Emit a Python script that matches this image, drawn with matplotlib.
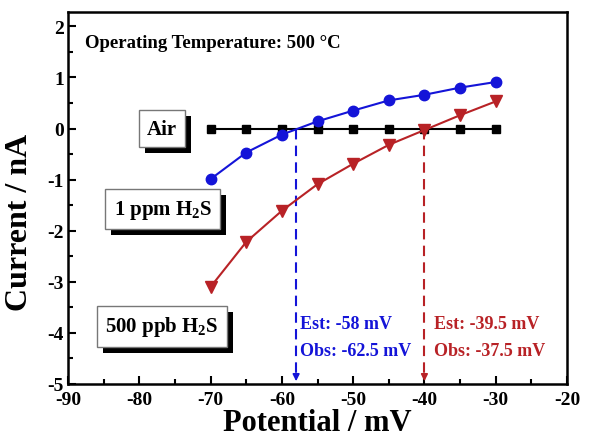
import matplotlib
matplotlib.use("Agg")
import matplotlib.pyplot as plt
import matplotlib.transforms as mtransforms
from matplotlib.patches import Rectangle
from matplotlib.ticker import MultipleLocator

# ── Data ──────────────────────────────────────────────────────────────────────

potential = [-70, -65, -60, -55, -50, -45, -40, -35, -30]
air       = [0, 0, 0, 0, 0, 0, 0, 0, 0]
ppm1      = [-0.99, -0.47, -0.12, 0.14, 0.35, 0.55, 0.66, 0.80, 0.91]
ppb500    = [-3.10, -2.22, -1.61, -1.09, -0.69, -0.32, -0.03, 0.26, 0.53]

est_blue = -58.0
est_red  = -40.0

BLUE = "#1414d8"
RED  = "#b82226"

plt.rcParams["font.family"] = ["Liberation Serif", "DejaVu Serif"]
plt.rcParams["font.weight"] = "bold"
plt.rcParams["axes.unicode_minus"] = False
plt.rcParams["mathtext.fontset"] = "custom"
plt.rcParams["mathtext.rm"] = "Liberation Serif:bold"
plt.rcParams["mathtext.default"] = "rm"

fig = plt.figure(figsize=(5.9, 4.39), dpi=100)
ax = fig.add_axes([68 / 590, 1 - 385 / 439, 499 / 590, 372 / 439])

ax.plot(potential, air, "-s", color="black", ms=6, lw=1.5, zorder=3)
ax.plot(potential, ppm1, "-o", color=BLUE, ms=7.5, lw=1.5, zorder=4)
ax.plot(potential, ppb500, "-v", color=RED, ms=9, lw=1.5, zorder=4)

# dashed drop lines with arrow heads
for xv, c in [(est_blue, BLUE), (est_red, RED)]:
    ax.plot([xv, xv], [0, -4.85], "--", color=c, lw=1.5, dashes=(5, 3), zorder=2)
    ax.annotate("", xy=(xv, -5.0), xytext=(xv, -4.8),
                arrowprops=dict(arrowstyle="-|>", color=c, lw=1.2,
                                mutation_scale=10), zorder=2)

ax.set_xlim(-90, -20)
ax.set_ylim(-5, 2.28)
ax.xaxis.set_major_locator(MultipleLocator(10))
ax.xaxis.set_minor_locator(MultipleLocator(5))
ax.yaxis.set_major_locator(MultipleLocator(1))
ax.yaxis.set_minor_locator(MultipleLocator(0.5))
ax.set_yticks(range(-5, 3))
ax.tick_params(which="both", direction="in", top=False, right=False, width=1.5)
ax.tick_params(which="major", length=6, labelsize=14, pad=3)
ax.tick_params(axis="x", which="major", pad=5)
ax.tick_params(which="minor", length=3.5)
for s in ax.spines.values():
    s.set_linewidth(1.8)

ax.set_xlabel("Potential / mV", fontsize=22, fontweight="bold", labelpad=0)
ax.set_ylabel("Current / nA", fontsize=23, fontweight="bold")
ax.yaxis.set_label_coords(-0.068, (385 - 222) / 372)

ax.text(-87.6, 1.68, "Operating Temperature: 500 \u00b0C", fontsize=13.5,
        fontweight="bold", va="center", ha="left")

# labels in white boxes with drop shadows
boxes = [(-76.8, 0.0, "Air"),
         (-76.7, -1.58, "1 ppm H$_2$S"),
         (-76.8, -3.87, "500 ppb H$_2$S")]
box_texts = []
for bx, by, label in boxes:
    t = ax.text(bx, by, label, fontsize=15, fontweight="bold", ha="center",
                va="center", color="black", zorder=6,
                bbox=dict(boxstyle="square,pad=0.4", fc="white", ec="#777777", lw=1))
    box_texts.append(t)

fig.canvas.draw()
for t in box_texts:
    bb = t.get_bbox_patch().get_window_extent()
    ax.add_patch(Rectangle((bb.x0 + 6, bb.y0 - 6), bb.width, bb.height,
                           transform=mtransforms.IdentityTransform(),
                           fc="black", ec="none", zorder=5, clip_on=False))

ax.text(-57.4, -3.82, "Est: -58 mV", color=BLUE, fontsize=13, va="center")
ax.text(-57.4, -4.35, "Obs: -62.5 mV", color=BLUE, fontsize=13, va="center")
ax.text(-38.6, -3.82, "Est: -39.5 mV", color=RED, fontsize=13, va="center")
ax.text(-38.6, -4.35, "Obs: -37.5 mV", color=RED, fontsize=13, va="center")

fig.savefig("out.png", dpi=100)
